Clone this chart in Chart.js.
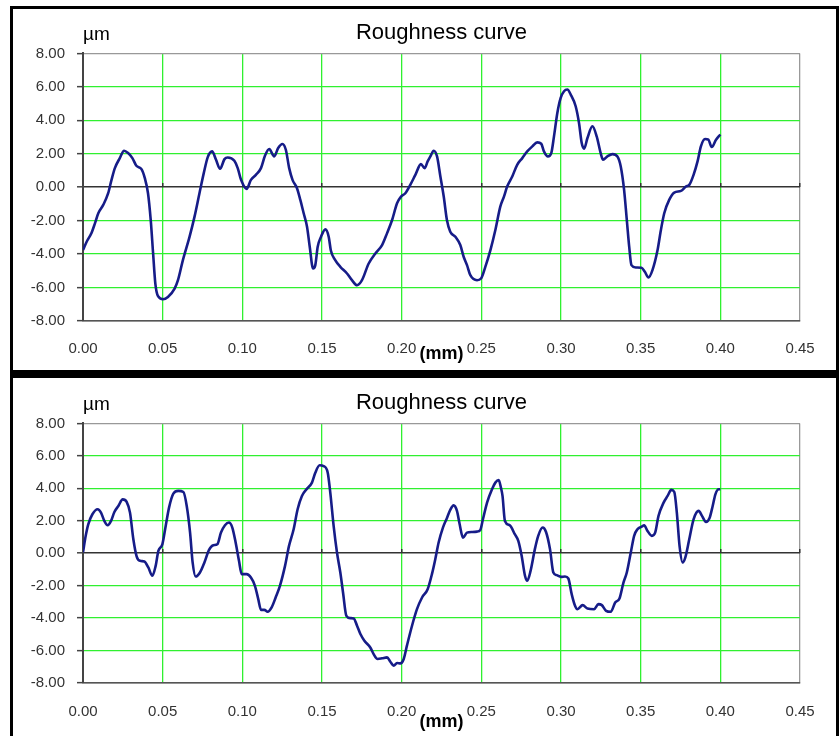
<!DOCTYPE html>
<html>
<head>
<meta charset="utf-8">
<title>Roughness curve</title>
<script src="https://cdn.jsdelivr.net/npm/chart.js"></script>
<style>
  body { margin: 0; background: #fff; }
  .frame { position: absolute; left: 10px; width: 829px; border: 3px solid #000; box-sizing: border-box; }
  #frameTop { top: 6px; height: 367px; }
  #frameBottom { top: 373px; height: 380px; border-top-width: 5px; }
  canvas { position: absolute; left: 0; }
  #chartTop { top: 0; }
  #chartBottom { top: 370px; }
</style>
</head>
<body>
<div class="frame" id="frameTop"></div>
<div class="frame" id="frameBottom"></div>
<canvas id="chartTop" width="840" height="370"></canvas>
<canvas id="chartBottom" width="840" height="366"></canvas>

<script>
// profile 1: position (mm) / height (µm)
const topX = [0, 0.0023, 0.0054, 0.0075, 0.0096, 0.0127, 0.0158, 0.0179, 0.0200, 0.0231,
    0.0258, 0.0283, 0.0310, 0.0335, 0.0367, 0.0388, 0.0408, 0.0425, 0.0440, 0.0454,
    0.0471, 0.0502, 0.0533, 0.0575, 0.0596, 0.0627, 0.0669, 0.0700, 0.0731, 0.0758,
    0.0783, 0.0810, 0.0835, 0.0860, 0.0888, 0.0908, 0.0950, 0.0971, 0.0992, 0.1027,
    0.1054, 0.1085, 0.1117, 0.1142, 0.1169, 0.1200, 0.1225, 0.1252, 0.1273, 0.1294,
    0.1315, 0.1343, 0.1364, 0.1385, 0.1406, 0.1423, 0.1444, 0.1458, 0.1473, 0.1494,
    0.1521, 0.1542, 0.1556, 0.1583, 0.1615, 0.1657, 0.1688, 0.1720, 0.1751, 0.1793,
    0.1835, 0.1877, 0.1908, 0.1940, 0.1971, 0.1996, 0.2023, 0.2054, 0.2086, 0.2121,
    0.2144, 0.2163, 0.2180, 0.2201, 0.2222, 0.2243, 0.2264, 0.2284, 0.2305, 0.2337,
    0.2368, 0.2389, 0.2410, 0.2431, 0.2473, 0.2498, 0.2525, 0.2557, 0.2588, 0.2619,
    0.2642, 0.2662, 0.2694, 0.2725, 0.2757, 0.2788, 0.2820, 0.2851, 0.2876, 0.2893,
    0.2918, 0.2939, 0.2956, 0.2977, 0.2998, 0.3019, 0.3040, 0.3061, 0.3092, 0.3113,
    0.3130, 0.3145, 0.3166, 0.3197, 0.3224, 0.3249, 0.3264, 0.3291, 0.3323, 0.3354,
    0.3375, 0.3396, 0.3413, 0.3428, 0.3442, 0.3470, 0.3505, 0.3526, 0.3549, 0.3574,
    0.3606, 0.3627, 0.3648, 0.3679, 0.3711, 0.3753, 0.3784, 0.3805, 0.3832, 0.3857,
    0.3878, 0.3904, 0.3925, 0.3946, 0.3973, 0.4000];
const topY = [-3.76, -3.26, -2.72, -2.16, -1.56, -1.06, -0.36, 0.44, 1.14, 1.74,
    2.18, 2.04, 1.74, 1.28, 1.08, 0.54, -0.36, -1.96, -3.96, -5.76,
    -6.52, -6.70, -6.56, -6.06, -5.56, -4.36, -2.96, -1.76, -0.36, 0.84,
    1.80, 2.14, 1.64, 1.10, 1.68, 1.78, 1.58, 1.14, 0.44, -0.10,
    0.44, 0.74, 1.14, 1.88, 2.28, 1.84, 2.34, 2.58, 2.24, 1.14,
    0.44, -0.06, -0.76, -1.56, -2.36, -3.56, -4.86, -4.66, -3.56, -2.96,
    -2.52, -2.96, -3.80, -4.36, -4.76, -5.16, -5.56, -5.86, -5.56, -4.56,
    -3.96, -3.46, -2.76, -1.96, -0.96, -0.56, -0.36, 0.14, 0.74, 1.38,
    1.14, 1.54, 1.84, 2.18, 1.84, 0.64, -0.56, -1.96, -2.66, -2.96,
    -3.46, -4.16, -4.66, -5.26, -5.56, -5.46, -4.76, -3.76, -2.56, -1.16,
    -0.56, 0.04, 0.64, 1.34, 1.74, 2.14, 2.44, 2.68, 2.60, 2.14,
    1.84, 2.04, 3.04, 4.44, 5.34, 5.74, 5.84, 5.54, 4.84, 3.84,
    2.64, 2.30, 2.94, 3.64, 3.04, 2.04, 1.64, 1.84, 1.98, 1.84,
    1.24, -0.16, -1.96, -3.56, -4.66, -4.80, -4.82, -5.06, -5.40, -4.96,
    -3.76, -2.56, -1.56, -0.76, -0.32, -0.22, 0.04, 0.14, 0.74, 1.54,
    2.44, 2.88, 2.84, 2.40, 2.84, 3.15];

// profile 2
const bottomX = [0, 0.0017, 0.0033, 0.0059, 0.0092, 0.0113, 0.0134, 0.0155, 0.0176, 0.0197,
    0.0222, 0.0249, 0.0274, 0.0295, 0.0316, 0.0337, 0.0358, 0.0385, 0.0410, 0.0435,
    0.0456, 0.0473, 0.0498, 0.0519, 0.0540, 0.0567, 0.0598, 0.0630, 0.0651, 0.0672,
    0.0688, 0.0707, 0.0734, 0.0762, 0.0791, 0.0818, 0.0843, 0.0866, 0.0891, 0.0916,
    0.0937, 0.0958, 0.0979, 0.0996, 0.1027, 0.1054, 0.1079, 0.1100, 0.1117, 0.1138,
    0.1159, 0.1184, 0.1209, 0.1236, 0.1268, 0.1293, 0.1322, 0.1347, 0.1374, 0.1406,
    0.1437, 0.1458, 0.1485, 0.1510, 0.1536, 0.1552, 0.1573, 0.1594, 0.1615, 0.1632,
    0.1653, 0.1678, 0.1699, 0.1720, 0.1741, 0.1766, 0.1803, 0.1824, 0.1849, 0.1877,
    0.1908, 0.1929, 0.1950, 0.1971, 0.1992, 0.2013, 0.2033, 0.2065, 0.2096, 0.2128,
    0.2163, 0.2190, 0.2211, 0.2232, 0.2259, 0.2285, 0.2305, 0.2326, 0.2347, 0.2364,
    0.2385, 0.2410, 0.2441, 0.2473, 0.2494, 0.2510, 0.2536, 0.2567, 0.2588, 0.2609,
    0.2623, 0.2633, 0.2648, 0.2679, 0.2710, 0.2732, 0.2753, 0.2774, 0.2788, 0.2809,
    0.2836, 0.2857, 0.2885, 0.2906, 0.2931, 0.2952, 0.2973, 0.3000, 0.3025, 0.3046,
    0.3067, 0.3088, 0.3103, 0.3136, 0.3166, 0.3208, 0.3235, 0.3256, 0.3283, 0.3312,
    0.3340, 0.3367, 0.3392, 0.3413, 0.3438, 0.3459, 0.3480, 0.3507, 0.3522, 0.3543,
    0.3570, 0.3591, 0.3612, 0.3644, 0.3669, 0.3692, 0.3711, 0.3727, 0.3744, 0.3763,
    0.3780, 0.3805, 0.3832, 0.3864, 0.3885, 0.3910, 0.3933, 0.3952, 0.3969, 0.3990,
    0.4000];
const bottomY = [0.05, 1.07, 1.78, 2.40, 2.71, 2.50, 1.99, 1.72, 1.99, 2.54,
    2.91, 3.32, 3.16, 2.50, 0.86, -0.21, -0.47, -0.51, -0.88, -1.39,
    -0.78, 0.14, 0.55, 1.68, 2.81, 3.67, 3.84, 3.77, 2.91, 1.27,
    -0.57, -1.44, -1.19, -0.57, 0.21, 0.49, 0.55, 1.27, 1.72, 1.89,
    1.58, 0.66, -0.47, -1.29, -1.29, -1.50, -2.01, -2.83, -3.49, -3.49,
    -3.61, -3.34, -2.73, -2.01, -0.78, 0.45, 1.48, 2.71, 3.53, 3.98,
    4.35, 4.96, 5.42, 5.37, 4.96, 3.73, 1.68, 0.04, -1.19, -2.42,
    -3.86, -4.00, -4.02, -4.47, -4.98, -5.39, -5.81, -6.22, -6.52, -6.48,
    -6.42, -6.69, -6.93, -6.77, -6.79, -6.52, -5.70, -4.47, -3.45, -2.73,
    -2.22, -1.29, -0.37, 0.66, 1.58, 2.19, 2.67, 2.95, 2.61, 1.78,
    0.96, 1.27, 1.31, 1.33, 1.44, 2.09, 3.12, 3.94, 4.35, 4.51,
    4.04, 3.53, 1.99, 1.72, 1.17, 0.76, -0.16, -1.39, -1.70, -1.09,
    0.25, 1.07, 1.58, 1.31, 0.25, -1.19, -1.35, -1.46, -1.44, -1.56,
    -2.52, -3.24, -3.45, -3.20, -3.41, -3.45, -3.14, -3.20, -3.55, -3.61,
    -3.04, -2.79, -1.81, -1.19, 0.04, 1.07, 1.48, 1.64, 1.72, 1.37,
    1.07, 1.27, 2.30, 3.12, 3.53, 3.90, 3.77, 2.50, 0.45, -0.57,
    -0.27, 0.86, 2.09, 2.61, 2.30, 1.93, 2.19, 2.91, 3.63, 3.94,
    3.94];

// axis ranges
const xMin = 0, xMax = 0.45, xStep = 0.05;
const yMin = -8, yMax = 8, yStep = 2;

const FONT = '"Liberation Sans", Arial, sans-serif';
const GREEN = '#30f030';

// "µm" unit written above the value axis
const unitLabel = {
    id: 'unitLabel',
    afterDraw(chart) {
        const ctx = chart.ctx;
        ctx.save();
        ctx.font = '19px ' + FONT;
        ctx.fillStyle = '#000';
        ctx.textBaseline = 'alphabetic';
        ctx.fillText('µm', chart.chartArea.left, chart.chartArea.top - 13);
        ctx.restore();
    }
};

function yGridColor(c) {
    const v = c.tick.value;
    if (v === 0) return '#333';
    if (v === yMax) return '#999';
    if (v === yMin) return '#555';
    return GREEN;
}

function xGridColor(c) {
    const v = c.tick.value;
    if (v <= xMin + 1e-9) return '#444';
    if (v >= xMax - 1e-9) return '#999';
    return GREEN;
}

function buildChart(canvasId, xs, ys, axisHeight, tickPad, titlePad) {
    const points = xs.map((x, i) => ({ x: x, y: ys[i] }));
    new Chart(document.getElementById(canvasId), {
        type: 'line',
        data: {
            datasets: [{
                data: points,
                borderColor: '#161c88',
                borderWidth: 2.6,
                pointRadius: 0,
                fill: false,
                cubicInterpolationMode: 'monotone'
            }]
        },
        options: {
            responsive: false,
            animation: false,
            layout: { padding: { left: 0, top: 0, right: 40, bottom: 0 } },
            plugins: {
                legend: { display: false },
                tooltip: { enabled: false },
                title: {
                    display: true,
                    text: 'Roughness curve',
                    fullSize: false,
                    color: '#000',
                    font: { family: FONT, size: 22, weight: 'normal' },
                    padding: { top: 20, bottom: 7 }
                }
            },
            scales: {
                x: {
                    type: 'linear',
                    min: xMin,
                    max: xMax,
                    ticks: {
                        stepSize: xStep,
                        padding: tickPad,
                        color: '#333',
                        font: { family: FONT, size: 15 },
                        maxRotation: 0,
                        autoSkip: false,
                        callback: v => v.toFixed(2)
                    },
                    grid: { drawTicks: false, color: xGridColor, lineWidth: 1.3 },
                    border: { color: '#555', width: 1.5 },
                    title: {
                        display: true,
                        text: '(mm)',
                        color: '#000',
                        font: { family: FONT, size: 18, weight: 'bold' },
                        padding: { top: 0, bottom: titlePad }
                    },
                    afterFit: s => { s.height = axisHeight; }
                },
                // axis crossing at y = 0, only its tick marks are drawn
                xZero: {
                    type: 'linear',
                    axis: 'x',
                    position: { y: 0 },
                    min: xMin,
                    max: xMax,
                    ticks: { display: false, stepSize: xStep },
                    grid: { drawOnChartArea: false, tickLength: -4, color: '#333', lineWidth: 1.5 },
                    border: { display: false }
                },
                y: {
                    min: yMin,
                    max: yMax,
                    ticks: {
                        stepSize: yStep,
                        padding: 12,
                        color: '#333',
                        font: { family: FONT, size: 15 },
                        callback: v => v.toFixed(2)
                    },
                    grid: {
                        color: yGridColor,
                        lineWidth: c => c.tick.value === 0 ? 1.6 : 1.3,
                        tickLength: 6,
                        tickColor: '#444',
                        tickWidth: 1.5
                    },
                    border: { color: '#444', width: 2 },
                    afterFit: s => { s.width = 83; }
                }
            }
        },
        plugins: [unitLabel]
    });
}

buildChart('chartTop', topX, topY, 49, 19, 5);
buildChart('chartBottom', bottomX, bottomY, 53, 20, 3);
</script>
</body>
</html>
